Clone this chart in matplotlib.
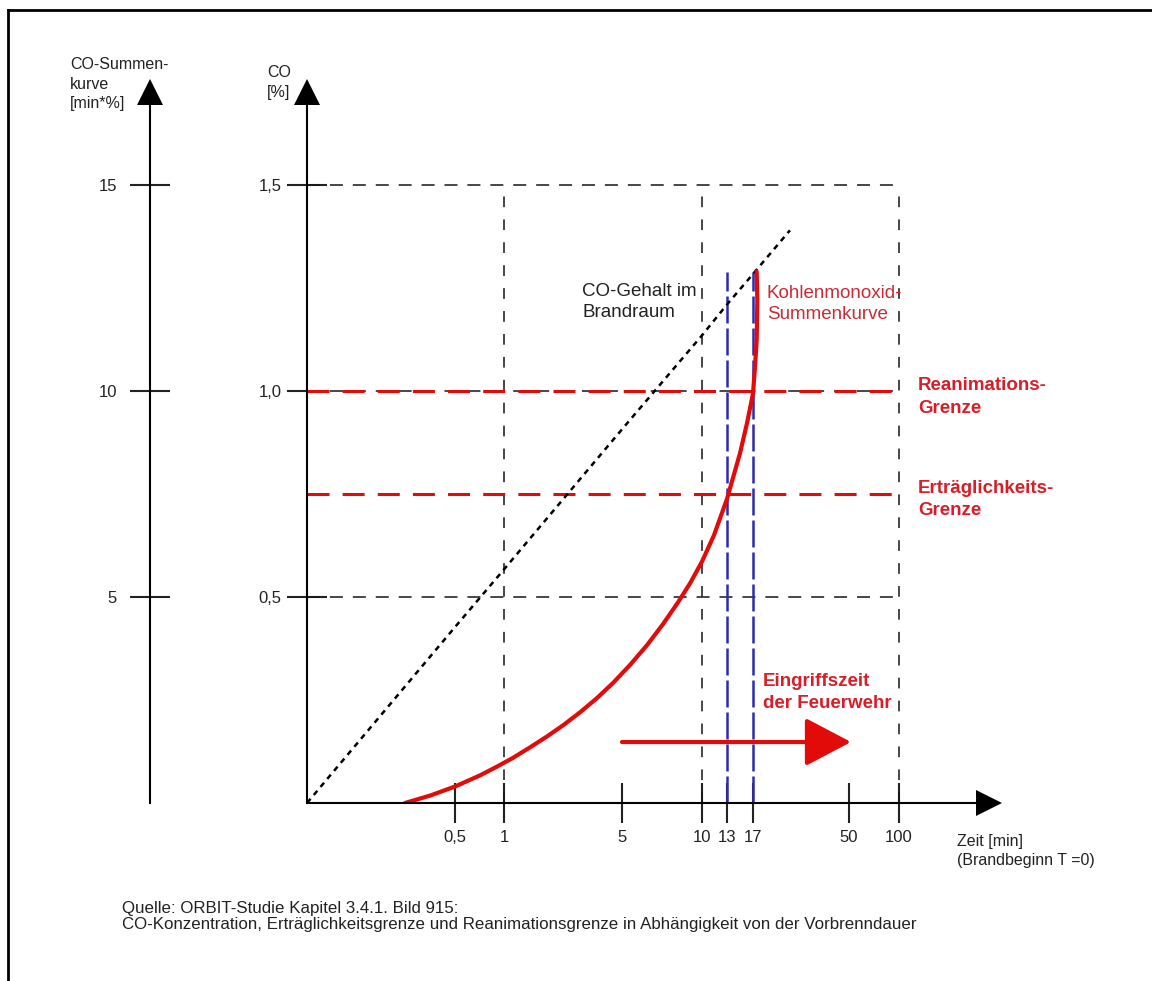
import numpy as np
import matplotlib
matplotlib.use("Agg")
import matplotlib.pyplot as plt
from matplotlib.lines import Line2D

plt.rcParams['font.family'] = ['Liberation Sans', 'DejaVu Sans']

# Zeitachse (min) und Beschriftung
time_ticks = [0.5, 1, 5, 10, 13, 17, 50, 100]
time_labels = ['0,5', '1', '5', '10', '13', '17', '50', '100']

# CO-Achse (%) und Summenkurven-Achse (min*%)
co_ticks = [0.5, 1.0, 1.5]
co_labels = ['0,5', '1,0', '1,5']
sum_ticks = [5, 10, 15]

# CO-Gehalt im Brandraum (gepunktete Linie)
gehalt_t = [0, 0.5, 1, 5, 10, 13, 17, 29.7]
gehalt_co = [0, 0.427, 0.567, 0.907, 1.135, 1.21, 1.284, 1.39]

# Kohlenmonoxid-Summenkurve (rot)
summe_t = [0.331, 0.416, 0.5, 0.755, 0.926, 1.315, 1.881, 2.447, 3.01, 3.576, 4.142, 4.705,
           5.5, 6.56, 7.56, 8.5, 9.25, 10, 11.44, 13, 15.0, 16.08, 17.0, 17.69, 18.27, 18.48, 18.27]
summe_co = [0, 0.018, 0.040, 0.067, 0.088, 0.110, 0.135, 0.161, 0.189, 0.220, 0.254, 0.292,
            0.335, 0.383, 0.434, 0.487, 0.533, 0.586, 0.650, 0.738, 0.849, 0.922, 0.994, 1.059,
            1.124, 1.221, 1.29]

# Grenzwerte
reanimation = 1.0
ertraeglich = 0.75
eingriff_t = [13, 17]
eingriff_top = 1.29
arrow_from, arrow_to, arrow_co = 5, 52, 0.148

# grobe, nicht ganz logarithmische Zeitskala der Vorlage (Pixel ab Ursprung)
scale_t = [0, 0.5, 1, 5, 10, 13, 17, 50, 100]
scale_px = [0, 148, 197, 315, 395, 420, 446, 542, 592]


def fwd(t):
    t = np.asarray(t, dtype=float)
    slope = (scale_px[-1] - scale_px[-2]) / (scale_t[-1] - scale_t[-2])
    return np.where(t > scale_t[-1], scale_px[-1] + (t - scale_t[-1]) * slope,
                    np.interp(t, scale_t, scale_px))


def inv(p):
    p = np.asarray(p, dtype=float)
    slope = (scale_t[-1] - scale_t[-2]) / (scale_px[-1] - scale_px[-2])
    return np.where(p > scale_px[-1], scale_t[-1] + (p - scale_px[-1]) * slope,
                    np.interp(p, scale_px, scale_t))


W, H = 1152, 981
RED = '#e30a0a'
BLUE = '#2a2ab4'
TXT = '#222222'
GRID = '#151515'


def fx(x):
    return x / W


def fy(y):
    return 1 - y / H


fig = plt.figure(figsize=(W / 100, H / 100), dpi=100)
ax = fig.add_axes([fx(307), fy(803), (989 - 307) / W, (803 - 92) / H])
ax.set_xscale('function', functions=(fwd, inv))
ax.set_xlim(0, float(inv(682)))
ax.set_ylim(0, (803 - 92) / 412)

for s in ['top', 'right']:
    ax.spines[s].set_visible(False)
for s in ['left', 'bottom']:
    ax.spines[s].set_linewidth(1.5)

ax.set_xticks(time_ticks, labels=time_labels)
ax.xaxis.set_minor_locator(matplotlib.ticker.NullLocator())
ax.tick_params(axis='x', direction='inout', length=28.8, width=1.5, pad=5, labelsize=12, colors=TXT)
ax.set_yticks(co_ticks, labels=co_labels)
ax.tick_params(axis='y', direction='inout', length=28.8, width=1.5, pad=4, labelsize=12, colors=TXT)

sec = ax.secondary_yaxis(-0.2302, functions=(lambda y: y * 10, lambda y: y / 10))
sec.set_alignment('left')
sec.set_yticks(sum_ticks)
sec.spines['left'].set_linewidth(1.5)
sec.tick_params(direction='inout', length=29.5, width=1.5, pad=9, labelsize=12, colors=TXT)

# Pfeilspitzen der Achsen
ax.plot(1, 0, '>', color='k', ms=18.7, mew=0, transform=ax.transAxes, clip_on=False)
ax.plot(0, 1, '^', color='k', ms=18.7, mew=0, transform=ax.transAxes, clip_on=False)
ax.plot(-0.2302, 1, '^', color='k', ms=18.7, mew=0, transform=ax.transAxes, clip_on=False)

# Hilfslinien
for v in co_ticks:
    ax.plot([0, 100], [v, v], color=GRID, lw=1.1, dashes=(8.5, 6.5))
for t in [1, 10, 100]:
    ax.plot([t, t], [0, 1.5], color=GRID, lw=1.1, dashes=(7, 8))

ax.plot([0, 100], [reanimation, reanimation], color=RED, lw=2.2, dashes=(7.2, 4.3))
ax.plot([0, 100], [ertraeglich, ertraeglich], color=RED, lw=2.2, dashes=(7.2, 4.3))

for t in eingriff_t:
    ax.plot([t, t], [0, eingriff_top], color=BLUE, lw=1.8, dashes=(10.8, 2))

ax.plot(gehalt_t, gehalt_co, color='k', lw=1.8, dashes=(2.2, 2.0))
ax.plot(summe_t, summe_co, color=RED, lw=3, solid_capstyle='round', solid_joinstyle='round')

ax.annotate('', xy=(arrow_to, arrow_co), xytext=(arrow_from, arrow_co),
            arrowprops=dict(arrowstyle='-|>,head_length=0.95,head_width=0.5',
                            mutation_scale=30, lw=3, color=RED, shrinkA=0, shrinkB=0))

# Beschriftungen (y = Grundlinie der letzten Zeile)
fig.text(fx(70), fy(108), 'CO-Summen-\nkurve\n[min*%]', fontsize=11.5, color=TXT, va='baseline', linespacing=1.36)
fig.text(fx(267), fy(97), 'CO\n[%]', fontsize=11.5, color=TXT, va='baseline', linespacing=1.45)
fig.text(fx(582), fy(317), 'CO-Gehalt im\nBrandraum', fontsize=13.5, color=TXT, va='baseline', linespacing=1.32)
fig.text(fx(767), fy(319), 'Kohlenmonoxid-\nSummenkurve', fontsize=13.5, color='#cc2a35', va='baseline', linespacing=1.32)
fig.text(fx(918), fy(413), 'Reanimations-\nGrenze', fontsize=13.5, color='#d81e28', fontweight='bold', va='baseline', linespacing=1.45)
fig.text(fx(918), fy(515), 'Erträglichkeits-\nGrenze', fontsize=13.5, color='#d81e28', fontweight='bold', va='baseline', linespacing=1.42)
fig.text(fx(763), fy(708), 'Eingriffszeit\nder Feuerwehr', fontsize=13.5, color='#d81e28', fontweight='bold', va='baseline', linespacing=1.38)
fig.text(fx(957), fy(865), 'Zeit [min]\n(Brandbeginn T =0)', fontsize=11.5, color=TXT, va='baseline', linespacing=1.3)
fig.text(fx(122), fy(929), 'Quelle: ORBIT-Studie Kapitel 3.4.1. Bild 915:\n'
         'CO-Konzentration, Erträglichkeitsgrenze und Reanimationsgrenze in Abhängigkeit von der Vorbrenndauer',
         fontsize=12.2, color=TXT, va='baseline', linespacing=1.1)

# Rahmen links und oben
fig.add_artist(Line2D([fx(8), fx(8)], [0, fy(10)], color='k', lw=2))
fig.add_artist(Line2D([fx(8), 1], [fy(10), fy(10)], color='k', lw=2))

fig.savefig('out.png', dpi=100)
